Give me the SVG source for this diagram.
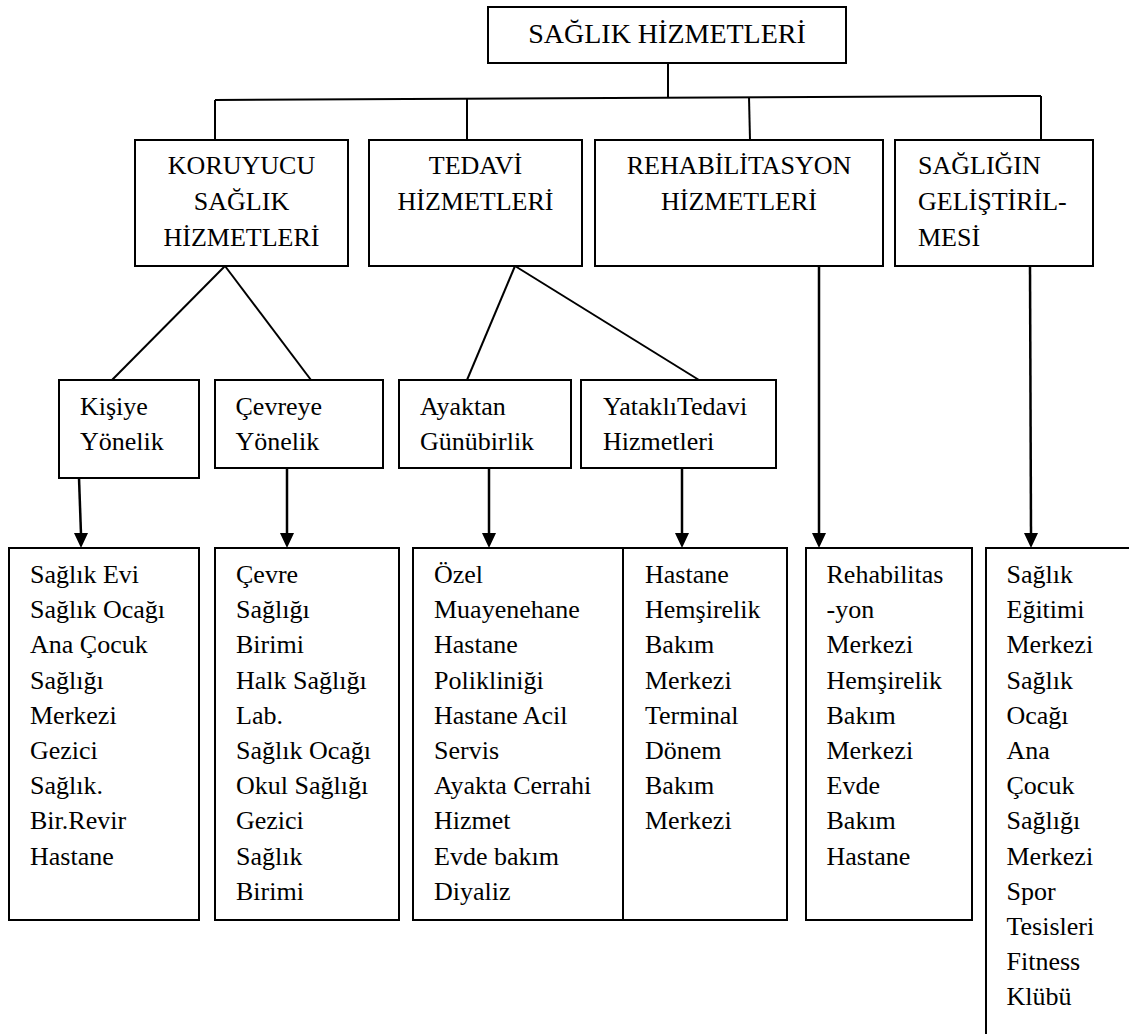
<svg xmlns="http://www.w3.org/2000/svg" width="1129" height="1034" viewBox="0 0 1129 1034">
  <style>
    .box { fill: #ffffff; stroke: #000000; stroke-width: 2; }
    .edge { fill: none; stroke: #000000; stroke-width: 2; }
    .down { fill: none; stroke: #000000; stroke-width: 2.5; marker-end: url(#tip); }
    text { font-family: "Liberation Serif", "Tinos", "Times New Roman", "DejaVu Serif", serif; font-size: 26px; fill: #000000; }
    .mid { text-anchor: middle; }
  </style>
  <defs>
    <marker id="tip" markerWidth="14" markerHeight="15" refX="7" refY="1" markerUnits="userSpaceOnUse" orient="0">
      <path d="M0,0 L14,0 L7,15 Z" fill="#000000"/>
    </marker>
  </defs>

  <rect width="1129" height="1034" fill="#ffffff"/>

  <!-- connectors -->
  <g id="connectors">
    <line class="edge" x1="668" y1="63" x2="668" y2="98"/>
    <line class="edge" x1="215" y1="100" x2="1041" y2="96"/>
    <line class="edge" x1="215" y1="100" x2="215" y2="140"/>
    <line class="edge" x1="467" y1="99" x2="467" y2="140"/>
    <line class="edge" x1="749" y1="97" x2="750" y2="140"/>
    <line class="edge" x1="1041" y1="96" x2="1041" y2="140"/>

    <line class="edge" x1="225" y1="266" x2="112" y2="380"/>
    <line class="edge" x1="225" y1="266" x2="311" y2="380"/>
    <line class="edge" x1="515" y1="266" x2="467" y2="380"/>
    <line class="edge" x1="515" y1="266" x2="699" y2="380"/>

    <line class="down" x1="79" y1="478" x2="81" y2="534"/>
    <line class="down" x1="287" y1="468" x2="287" y2="534"/>
    <line class="down" x1="489" y1="468" x2="489" y2="534"/>
    <line class="down" x1="682" y1="468" x2="682" y2="534"/>
    <line class="down" x1="819" y1="266" x2="819" y2="534"/>
    <line class="down" x1="1030" y1="266" x2="1031" y2="534"/>
  </g>

  <!-- root -->
  <g id="saglik-hizmetleri">
    <rect class="box" x="488" y="7" width="358" height="56"/>
    <text class="mid" x="667" y="43" style="font-size:28px">SAĞLIK HİZMETLERİ</text>
  </g>

  <!-- second level -->
  <g id="koruyucu">
    <rect class="box" x="135" y="140" width="213" height="126"/>
    <text class="mid" x="241.5" y="174">KORUYUCU</text>
    <text class="mid" x="241.5" y="210">SAĞLIK</text>
    <text class="mid" x="241.5" y="246">HİZMETLERİ</text>
  </g>
  <g id="tedavi">
    <rect class="box" x="369" y="140" width="213" height="126"/>
    <text class="mid" x="475.5" y="174">TEDAVİ</text>
    <text class="mid" x="475.5" y="210">HİZMETLERİ</text>
  </g>
  <g id="rehabilitasyon">
    <rect class="box" x="595" y="140" width="288" height="126"/>
    <text class="mid" x="739" y="174">REHABİLİTASYON</text>
    <text class="mid" x="739" y="210">HİZMETLERİ</text>
  </g>
  <g id="sagligin-gelistirilmesi">
    <rect class="box" x="895" y="140" width="198" height="126"/>
    <text x="918" y="174">SAĞLIĞIN</text>
    <text x="918" y="210">GELİŞTİRİL-</text>
    <text x="918" y="246">MESİ</text>
  </g>

  <!-- third level -->
  <g id="kisiye">
    <rect class="box" x="59" y="380" width="140" height="98"/>
    <text x="80" y="415">Kişiye</text>
    <text x="80" y="450">Yönelik</text>
  </g>
  <g id="cevreye">
    <rect class="box" x="215" y="380" width="168" height="88"/>
    <text x="235.5" y="415">Çevreye</text>
    <text x="235.5" y="450">Yönelik</text>
  </g>
  <g id="ayaktan">
    <rect class="box" x="399" y="380" width="172" height="88"/>
    <text x="420" y="415">Ayaktan</text>
    <text x="420" y="450">Günübirlik</text>
  </g>
  <g id="yatakli">
    <rect class="box" x="581" y="380" width="195" height="88"/>
    <text x="603" y="415">YataklıTedavi</text>
    <text x="603" y="450">Hizmetleri</text>
  </g>

  <!-- bottom lists -->
  <g id="kisiye-list">
    <rect class="box" x="9" y="548" width="190" height="372"/>
    <text x="30" y="583">Sağlık Evi</text>
    <text x="30" y="618.2">Sağlık Ocağı</text>
    <text x="30" y="653.4">Ana Çocuk</text>
    <text x="30" y="688.6">Sağlığı</text>
    <text x="30" y="723.8">Merkezi</text>
    <text x="30" y="759">Gezici</text>
    <text x="30" y="794.2">Sağlık.</text>
    <text x="30" y="829.4">Bir.Revir</text>
    <text x="30" y="864.6">Hastane</text>
  </g>
  <g id="cevreye-list">
    <rect class="box" x="215" y="548" width="184" height="372"/>
    <text x="236" y="583">Çevre</text>
    <text x="236" y="618.2">Sağlığı</text>
    <text x="236" y="653.4">Birimi</text>
    <text x="236" y="688.6">Halk Sağlığı</text>
    <text x="236" y="723.8">Lab.</text>
    <text x="236" y="759">Sağlık Ocağı</text>
    <text x="236" y="794.2">Okul Sağlığı</text>
    <text x="236" y="829.4">Gezici</text>
    <text x="236" y="864.6">Sağlık</text>
    <text x="236" y="899.8">Birimi</text>
  </g>
  <g id="ayaktan-list">
    <rect class="box" x="413" y="548" width="210" height="372"/>
    <text x="434" y="583">Özel</text>
    <text x="434" y="618.2">Muayenehane</text>
    <text x="434" y="653.4">Hastane</text>
    <text x="434" y="688.6">Polikliniği</text>
    <text x="434" y="723.8">Hastane Acil</text>
    <text x="434" y="759">Servis</text>
    <text x="434" y="794.2">Ayakta Cerrahi</text>
    <text x="434" y="829.4">Hizmet</text>
    <text x="434" y="864.6">Evde bakım</text>
    <text x="434" y="899.8">Diyaliz</text>
  </g>
  <g id="yatakli-list">
    <rect class="box" x="623" y="548" width="164" height="372"/>
    <text x="645" y="583">Hastane</text>
    <text x="645" y="618.2">Hemşirelik</text>
    <text x="645" y="653.4">Bakım</text>
    <text x="645" y="688.6">Merkezi</text>
    <text x="645" y="723.8">Terminal</text>
    <text x="645" y="759">Dönem</text>
    <text x="645" y="794.2">Bakım</text>
    <text x="645" y="829.4">Merkezi</text>
  </g>
  <g id="rehabilitasyon-list">
    <rect class="box" x="806" y="548" width="166" height="372"/>
    <text x="826.5" y="583">Rehabilitas</text>
    <text x="826.5" y="618.2">-yon</text>
    <text x="826.5" y="653.4">Merkezi</text>
    <text x="826.5" y="688.6">Hemşirelik</text>
    <text x="826.5" y="723.8">Bakım</text>
    <text x="826.5" y="759">Merkezi</text>
    <text x="826.5" y="794.2">Evde</text>
    <text x="826.5" y="829.4">Bakım</text>
    <text x="826.5" y="864.6">Hastane</text>
  </g>
  <g id="gelistirme-list">
    <rect class="box" x="986" y="548" width="160" height="500"/>
    <text x="1006.5" y="583">Sağlık</text>
    <text x="1006.5" y="618.2">Eğitimi</text>
    <text x="1006.5" y="653.4">Merkezi</text>
    <text x="1006.5" y="688.6">Sağlık</text>
    <text x="1006.5" y="723.8">Ocağı</text>
    <text x="1006.5" y="759">Ana</text>
    <text x="1006.5" y="794.2">Çocuk</text>
    <text x="1006.5" y="829.4">Sağlığı</text>
    <text x="1006.5" y="864.6">Merkezi</text>
    <text x="1006.5" y="899.8">Spor</text>
    <text x="1006.5" y="935">Tesisleri</text>
    <text x="1006.5" y="970.2">Fitness</text>
    <text x="1006.5" y="1005.4">Klübü</text>
  </g>
</svg>
